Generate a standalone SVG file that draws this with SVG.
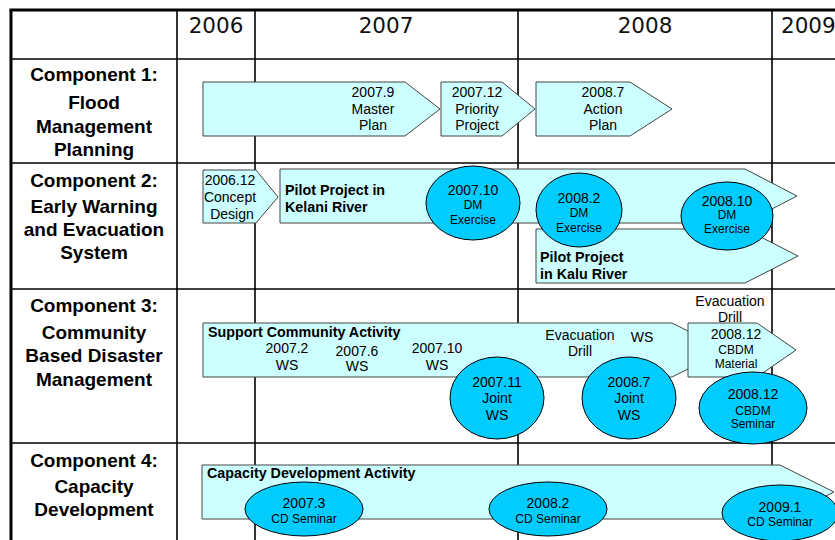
<svg xmlns="http://www.w3.org/2000/svg" width="835" height="540" viewBox="0 0 835 540">
  <style>
    .grid { stroke: #000; stroke-width: 1.6; fill: none; }
    .frame { stroke: #000; stroke-width: 3; fill: none; }
    .bar { fill: #CCFFFF; stroke: #444; stroke-width: 1; }
    .evt { fill: #00CCFF; stroke: #000; stroke-width: 1; }
    text { font-family: "Liberation Sans", Arial, sans-serif; fill: #000; }
    .year { font-family: "DejaVu Sans", sans-serif; font-size: 21.5px; text-anchor: middle; fill: #111; }
    .comp { font-size: 19px; font-weight: bold; text-anchor: middle; }
    .t14 { font-size: 14px; text-anchor: middle; }
    .t12 { font-size: 12px; text-anchor: middle; }
    .b14 { font-size: 14.3px; font-weight: bold; }
  </style>

  <rect width="835" height="540" fill="#fff"/>

  <!-- timeline grid -->
  <g id="grid">
    <line class="grid" x1="177" y1="10" x2="177" y2="540"/>
    <line class="grid" x1="255" y1="10" x2="255" y2="540"/>
    <line class="grid" x1="518" y1="10" x2="518" y2="540"/>
    <line class="grid" x1="772" y1="10" x2="772" y2="540"/>
    <line class="grid" x1="11" y1="59" x2="835" y2="59"/>
    <line class="grid" x1="11" y1="163" x2="835" y2="163"/>
    <line class="grid" x1="11" y1="289" x2="835" y2="289"/>
    <line class="grid" x1="11" y1="443" x2="835" y2="443"/>
    <line class="frame" x1="11" y1="540" x2="11" y2="10"/>
    <line class="frame" x1="9.5" y1="10" x2="835" y2="10"/>
  </g>

  <!-- year header -->
  <g id="years">
    <text class="year" x="216" y="33">2006</text>
    <text class="year" x="386" y="33">2007</text>
    <text class="year" x="645" y="33">2008</text>
    <text class="year" x="781" y="33" style="text-anchor:start">2009</text>
  </g>

  <!-- component labels -->
  <g id="component1-label">
    <text class="comp" x="94" y="81">Component 1:</text>
    <text class="comp" x="94" y="109">Flood</text>
    <text class="comp" x="94" y="133">Management</text>
    <text class="comp" x="94" y="156">Planning</text>
  </g>
  <g id="component2-label">
    <text class="comp" x="94" y="187">Component 2:</text>
    <text class="comp" x="94" y="213">Early Warning</text>
    <text class="comp" x="94" y="236">and Evacuation</text>
    <text class="comp" x="94" y="259">System</text>
  </g>
  <g id="component3-label">
    <text class="comp" x="94" y="312">Component 3:</text>
    <text class="comp" x="94" y="339">Community</text>
    <text class="comp" x="94" y="362">Based Disaster</text>
    <text class="comp" x="94" y="386">Management</text>
  </g>
  <g id="component4-label">
    <text class="comp" x="94" y="467">Component 4:</text>
    <text class="comp" x="94" y="493">Capacity</text>
    <text class="comp" x="94" y="516">Development</text>
  </g>

  <!-- component 1: flood management planning -->
  <g id="master-plan">
    <path class="bar" d="M203,82 H405 L440,109 L405,136 H203 Z"/>
    <text class="t14" x="373" y="97">2007.9</text>
    <text class="t14" x="373" y="113.5">Master</text>
    <text class="t14" x="373" y="130">Plan</text>
  </g>
  <g id="priority-project">
    <path class="bar" d="M441,82 H502 L535,109 L502,136 H441 Z"/>
    <text class="t14" x="477" y="97">2007.12</text>
    <text class="t14" x="477" y="113.5">Priority</text>
    <text class="t14" x="477" y="130">Project</text>
  </g>
  <g id="action-plan">
    <path class="bar" d="M536,82 H630 L672,109 L630,136 H536 Z"/>
    <text class="t14" x="603" y="97">2008.7</text>
    <text class="t14" x="603" y="113.5">Action</text>
    <text class="t14" x="603" y="130">Plan</text>
  </g>

  <!-- component 2: early warning and evacuation -->
  <g id="concept-design">
    <path class="bar" d="M203,170 H256 L278,197 L256,223 H203 Z"/>
    <text class="t14" x="230" y="185">2006.12</text>
    <text class="t14" x="230" y="202">Concept</text>
    <text class="t14" x="232" y="219">Design</text>
  </g>
  <g id="kelani-pilot">
    <path class="bar" d="M280,169 H745 L797,196 L745,223 H280 Z"/>
    <text class="b14" x="285" y="195">Pilot Project in</text>
    <text class="b14" x="285" y="212">Kelani River</text>
  </g>
  <g id="kalu-pilot">
    <path class="bar" d="M536,229 H745 L798,256 L745,283 H536 Z"/>
    <text class="b14" x="540" y="262">Pilot Project</text>
    <text class="b14" x="540" y="279">in Kalu River</text>
  </g>
  <g id="dm-exercise-2007-10">
    <ellipse class="evt" cx="473" cy="203" rx="47" ry="37"/>
    <text class="t14" x="473" y="195">2007.10</text>
    <text class="t12" x="473" y="209">DM</text>
    <text class="t12" x="473" y="224">Exercise</text>
  </g>
  <g id="dm-exercise-2008-2">
    <ellipse class="evt" cx="579" cy="210" rx="43" ry="37"/>
    <text class="t14" x="579" y="203">2008.2</text>
    <text class="t12" x="579" y="217">DM</text>
    <text class="t12" x="579" y="232">Exercise</text>
  </g>
  <g id="dm-exercise-2008-10">
    <ellipse class="evt" cx="727" cy="216" rx="46" ry="34"/>
    <text class="t14" x="727" y="206">2008.10</text>
    <text class="t12" x="727" y="219">DM</text>
    <text class="t12" x="727" y="233">Exercise</text>
  </g>

  <!-- component 3: community based disaster management -->
  <g id="community-activity">
    <path class="bar" d="M203,323 H672 L726,350 L672,377 H203 Z"/>
    <text class="b14" x="208" y="337">Support Community Activity</text>
    <text class="t14" x="287" y="353">2007.2</text>
    <text class="t14" x="287" y="370">WS</text>
    <text class="t14" x="357" y="356">2007.6</text>
    <text class="t14" x="357" y="371">WS</text>
    <text class="t14" x="437" y="353">2007.10</text>
    <text class="t14" x="437" y="370">WS</text>
    <text class="t14" x="580" y="340">Evacuation</text>
    <text class="t14" x="580" y="356">Drill</text>
    <text class="t14" x="642" y="342">WS</text>
  </g>
  <g id="cbdm-material">
    <path class="bar" d="M688,323 H757 L796,350 L757,377 H688 Z"/>
    <text class="t14" x="730" y="306">Evacuation</text>
    <text class="t14" x="730" y="322">Drill</text>
    <text class="t14" x="736" y="339">2008.12</text>
    <text class="t12" x="736" y="354">CBDM</text>
    <text class="t12" x="736" y="368">Material</text>
  </g>
  <g id="joint-ws-2007-11">
    <ellipse class="evt" cx="497" cy="398" rx="47" ry="41"/>
    <text class="t14" x="497" y="387">2007.11</text>
    <text class="t14" x="497" y="403">Joint</text>
    <text class="t14" x="497" y="420">WS</text>
  </g>
  <g id="joint-ws-2008-7">
    <ellipse class="evt" cx="629" cy="398" rx="47" ry="41"/>
    <text class="t14" x="629" y="387">2008.7</text>
    <text class="t14" x="629" y="403">Joint</text>
    <text class="t14" x="629" y="420">WS</text>
  </g>
  <g id="cbdm-seminar">
    <ellipse class="evt" cx="753" cy="408" rx="54" ry="36"/>
    <text class="t14" x="753" y="399">2008.12</text>
    <text class="t12" x="753" y="415">CBDM</text>
    <text class="t12" x="753" y="428">Seminar</text>
  </g>

  <!-- component 4: capacity development -->
  <g id="capacity-activity">
    <path class="bar" d="M202,465 H780 L834,492 L780,519 H202 Z"/>
    <text class="b14" x="207" y="478">Capacity Development Activity</text>
  </g>
  <g id="cd-seminar-2007-3">
    <ellipse class="evt" cx="304" cy="509" rx="59" ry="27"/>
    <text class="t14" x="304" y="508">2007.3</text>
    <text class="t12" x="304" y="523">CD Seminar</text>
  </g>
  <g id="cd-seminar-2008-2">
    <ellipse class="evt" cx="548" cy="509" rx="59" ry="27"/>
    <text class="t14" x="548" y="508">2008.2</text>
    <text class="t12" x="548" y="523">CD Seminar</text>
  </g>
  <g id="cd-seminar-2009-1">
    <ellipse class="evt" cx="780" cy="513" rx="58" ry="28"/>
    <text class="t14" x="780" y="512">2009.1</text>
    <text class="t12" x="780" y="526">CD Seminar</text>
  </g>
</svg>
